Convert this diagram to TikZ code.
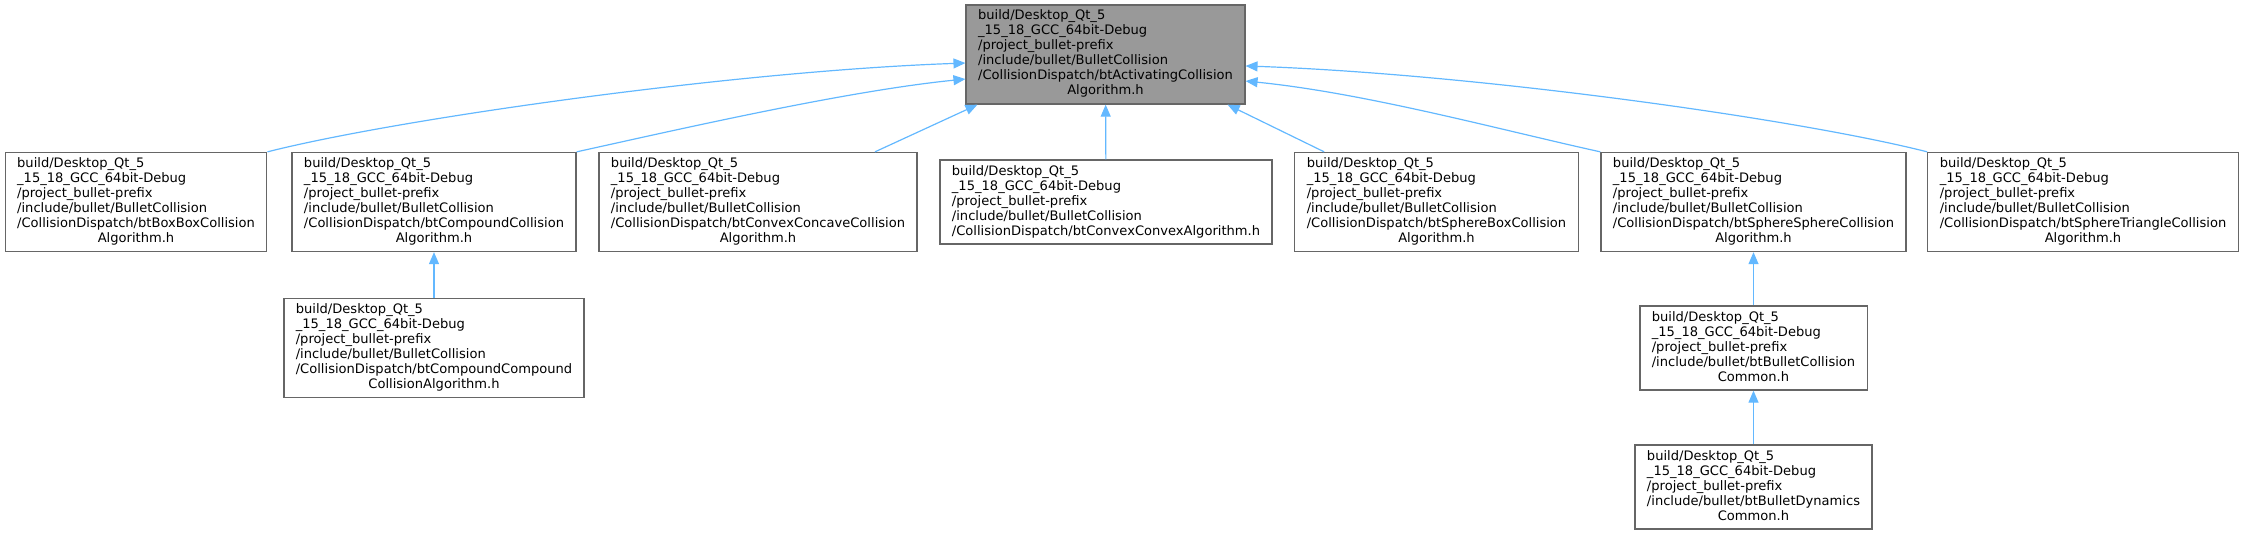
\documentclass[tikz,border=0pt]{standalone}
\usepackage{fontspec}
\setmainfont{DejaVu Sans}
\usetikzlibrary{arrows.meta}
\definecolor{nodeline}{HTML}{666666}
\definecolor{rootfill}{HTML}{999999}
\definecolor{edgeblue}{HTML}{63B8FF}
\newcommand{\bulletpfx}{build/Desktop\_Qt\_5\\\_15\_18\_GCC\_64bit-Debug\\/project\_bullet-prefix}
\newcommand{\filelabel}[2]{\begin{tabular}{@{}l@{}}#1\\\multicolumn{1}{@{}c@{}}{#2}\end{tabular}}

\begin{document}
\begin{tikzpicture}[
    x=0.75pt, y=-0.75pt,
    hfile/.style={
        draw=nodeline,
        line width=1pt,
        fill=white,
        inner xsep=9pt,
        inner ysep=0pt,
        font=\fontsize{9.8pt}{11.25pt}\selectfont
    },
    hroot/.style={hfile, fill=rootfill},
    rows6/.style={minimum height=74.25pt},
    rows5/.style={minimum height=63pt},
    dep/.style={-{Triangle[length=9pt,width=7.5pt]}, draw=edgeblue, line width=0.9pt}
]
    \useasboundingbox (0,0) rectangle (2243,535);

    \node[hroot, rows6] (activating) at (1105.5,54.5)
        {\filelabel{\bulletpfx\\/include/bullet/BulletCollision\\/CollisionDispatch/btActivatingCollision}{Algorithm.h}};

    \node[hfile, rows6] (boxbox) at (136,202)
        {\filelabel{\bulletpfx\\/include/bullet/BulletCollision\\/CollisionDispatch/btBoxBoxCollision}{Algorithm.h}};
    \node[hfile, rows6] (compound) at (434,202)
        {\filelabel{\bulletpfx\\/include/bullet/BulletCollision\\/CollisionDispatch/btCompoundCollision}{Algorithm.h}};
    \node[hfile, rows6] (convconcave) at (758,202)
        {\filelabel{\bulletpfx\\/include/bullet/BulletCollision\\/CollisionDispatch/btConvexConcaveCollision}{Algorithm.h}};
    \node[hfile, rows5] (convconvex) at (1106,202)
        {\filelabel{\bulletpfx\\/include/bullet/BulletCollision}{/CollisionDispatch/btConvexConvexAlgorithm.h}};
    \node[hfile, rows6] (spherebox) at (1436.5,202)
        {\filelabel{\bulletpfx\\/include/bullet/BulletCollision\\/CollisionDispatch/btSphereBoxCollision}{Algorithm.h}};
    \node[hfile, rows6] (spheresphere) at (1753.5,202)
        {\filelabel{\bulletpfx\\/include/bullet/BulletCollision\\/CollisionDispatch/btSphereSphereCollision}{Algorithm.h}};
    \node[hfile, rows6] (spheretri) at (2083,202)
        {\filelabel{\bulletpfx\\/include/bullet/BulletCollision\\/CollisionDispatch/btSphereTriangleCollision}{Algorithm.h}};

    \node[hfile, rows6] (compcomp) at (434,348)
        {\filelabel{\bulletpfx\\/include/bullet/BulletCollision\\/CollisionDispatch/btCompoundCompound}{CollisionAlgorithm.h}};
    \node[hfile, rows5] (collcommon) at (1753.5,348)
        {\filelabel{\bulletpfx\\/include/bullet/btBulletCollision}{Common.h}};
    \node[hfile, rows5] (dyncommon) at (1753.5,487)
        {\filelabel{\bulletpfx\\/include/bullet/btBulletDynamics}{Common.h}};

    % includes point up to the including header
    \draw[dep] (boxbox.north east) .. controls +(130,-33) and +(-230,8) .. ([yshift=-6.4pt]activating.west);
    \draw[dep] (compound.north east) .. controls +(100,-22) and +(-120,12) .. ([yshift=-18.4pt]activating.west);
    \draw[dep] ([xshift=87.75pt]convconcave.north) -- ([xshift=9pt]activating.south west);
    \draw[dep] (convconvex) -- (activating);
    \draw[dep] ([xshift=22.5pt]spherebox.north west) -- ([xshift=-13.5pt]activating.south east);
    \draw[dep] (spheresphere.north west) .. controls +(-100,-22) and +(120,12) .. ([yshift=-19.9pt]activating.east);
    \draw[dep] (spheretri.north west) .. controls +(-130,-33) and +(230,8) .. ([yshift=-8.6pt]activating.east);

    \draw[dep] (compcomp) -- (compound);
    \draw[dep] (collcommon) -- (spheresphere);
    \draw[dep] (dyncommon) -- (collcommon);
\end{tikzpicture}
\end{document}
